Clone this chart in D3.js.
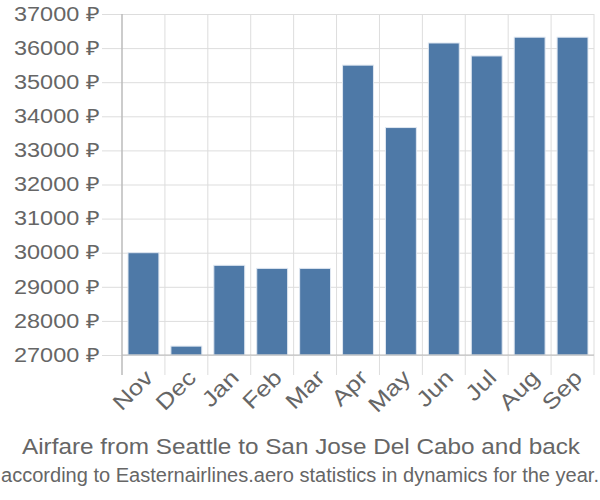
<!DOCTYPE html>
<html><head><meta charset="utf-8">
<script src="https://cdn.jsdelivr.net/npm/d3@7"></script>
<style>body{margin:0;background:#fff}text{font-family:"Liberation Sans",Arial,sans-serif}</style>
</head><body><svg id="c" width="600" height="500"></svg>
<script>
const months = ["Nov","Dec","Jan","Feb","Mar","Apr","May","Jun","Jul","Aug","Sep"];
const prices = [30000,27260,29630,29540,29540,35500,33670,36150,35770,36320,36320];
const yTicks = [27000,28000,29000,30000,31000,32000,33000,34000,35000,36000,37000];
const title = "Airfare from Seattle to San Jose Del Cabo and back";
const subtitle = "according to Easternairlines.aero statistics in dynamics for the year.";

const svg = d3.select("#c");
const L=122,R=594,T=14,B=355;
const x = d3.scaleBand().domain(months).range([L,R]).paddingInner(0.28).paddingOuter(0.14);
const y = d3.scaleLinear().domain([27000,37000]).range([B,T]);
const grid="#dddddd", txt="#666666";

// horizontal grid + ticks
svg.append("g").attr("transform",`translate(${L},0)`)
  .call(d3.axisLeft(y).tickValues(yTicks).tickSize(20).tickPadding(3).tickFormat(d=>d+" ₽"))
  .call(g=>{g.select(".domain").remove();
    g.selectAll(".tick line").attr("stroke",grid).attr("x2",R-L).attr("x1",-20);
    g.selectAll(".tick text").attr("fill",txt).attr("font-size",19.5)
      .attr("font-family","Liberation Sans, Arial, sans-serif")
      .attr("textLength",85).attr("lengthAdjust","spacingAndGlyphs");});

// vertical grid at band boundaries
const bounds = d3.range(months.length+1).map(i=>L+i*(R-L)/months.length);
svg.append("g").selectAll("line").data(bounds).join("line")
  .attr("x1",d=>d).attr("x2",d=>d).attr("y1",T).attr("y2",B+20)
  .attr("stroke",grid).attr("stroke-width",1);

// bars
svg.append("g").selectAll("rect").data(months).join("rect")
  .attr("x",d=>x(d)).attr("width",x.bandwidth())
  .attr("y",(d,i)=>y(prices[i])).attr("height",(d,i)=>B-y(prices[i]))
  .attr("fill","#4e79a7").attr("stroke","#dfe7f1").attr("stroke-width",1);

// axes lines
svg.append("line").attr("x1",L).attr("x2",L).attr("y1",T).attr("y2",B+20).attr("stroke","#aaaaaa");
svg.append("line").attr("x1",L).attr("x2",R).attr("y1",B).attr("y2",B).attr("stroke","#bbbbbb");

// x labels
svg.append("g").selectAll("text").data(months).join("text")
  .attr("transform",d=>`translate(${x(d)+x.bandwidth()/2+11},${B+24}) rotate(-45) scale(1.18,1)`)
  .attr("text-anchor","end")
  .attr("fill",txt).attr("font-size",22).text(d=>d);

svg.append("text").attr("x",301).attr("y",454).attr("text-anchor","middle")
  .attr("fill",txt).attr("font-size",22).attr("textLength",558).attr("lengthAdjust","spacingAndGlyphs").text(title);
svg.append("text").attr("x",300).attr("y",482).attr("text-anchor","middle")
  .attr("fill",txt).attr("font-size",19.5).attr("textLength",598).attr("lengthAdjust","spacingAndGlyphs").text(subtitle);
</script></body></html>
